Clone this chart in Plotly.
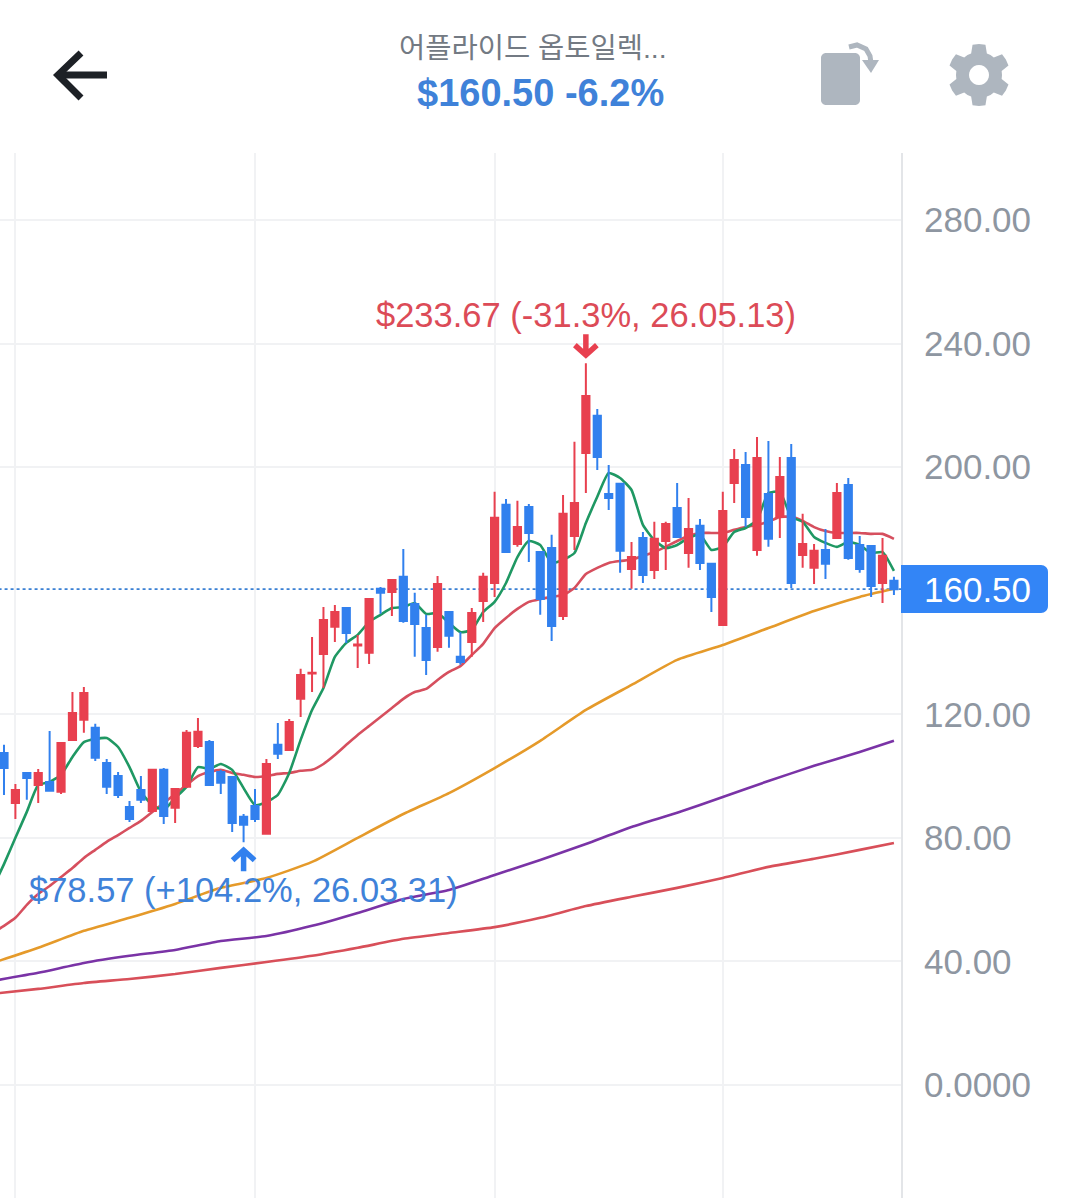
import math
import plotly.graph_objects as go

W, H = 1080, 1198

# Daily candles, oldest first
opens = [107.5,91.3,101.0,97.1,98.1,94.9,111.7,118.2,115.6,104.2,100.0,90.0,95.5,88.7,102.0,89.7,96.5,109.7,111.0,101.3,
         99.7,86.8,90.3,81.3,110.1,108.4,125.0,133.2,139.5,148.3,154.4,142.3,139.9,160.6,159.6,164.5,155.7,147.9,141.8,153.1,
         138.6,143.4,156.7,162.5,187.8,175.1,187.1,172.5,173.8,151.8,177.7,204.6,216.6,191.3,194.6,167.0,177.1,166.7,176.1,186.8,
         172.2,181.0,168.7,148.9,194.9,200.7,173.2,191.3,183.9,203.0,171.6,167.4,173.2,177.1,194.2,174.8,174.5,162.5,163.2]
closes = [102.6,95.5,99.4,101.0,95.2,110.7,120.4,126.9,105.9,96.5,93.9,86.1,92.3,102.0,87.1,95.8,114.0,114.3,97.1,97.8,
          84.8,84.2,86.1,103.9,107.2,117.5,132.7,133.4,150.5,153.1,146.3,142.6,157.3,159.3,163.5,150.2,149.2,137.6,162.2,145.4,
          136.9,152.8,164.5,183.6,172.5,180.6,178.7,157.3,148.6,184.9,188.4,223.0,203.3,190.0,172.9,170.9,165.1,176.8,181.6,177.4,
          180.0,169.0,158.0,185.8,202.3,183.9,203.0,176.8,196.8,162.5,175.1,172.9,168.7,191.6,170.6,167.0,161.5,171.3,160.5]
highs = [110.1,97.4,101.3,102.3,114.6,111.0,127.2,128.8,116.9,105.5,101.3,91.9,100.0,102.0,102.6,96.1,114.9,118.8,111.7,102.0,
         99.7,87.7,95.8,105.5,117.2,118.5,134.7,145.0,154.7,155.4,154.7,145.7,157.3,161.2,163.5,173.5,159.3,152.2,164.8,153.4,
         146.6,154.4,165.8,192.0,189.7,189.1,188.1,172.5,178.1,191.0,208.2,233.67,218.8,200.7,194.9,175.8,179.0,182.3,182.3,194.9,
         190.0,183.2,169.0,192.0,205.9,204.9,209.8,208.5,203.3,207.5,184.9,175.1,180.0,194.9,196.5,177.7,174.5,177.1,164.5]
lows = [93.9,86.1,92.3,91.3,95.2,94.2,111.7,114.0,104.9,94.2,92.9,85.1,91.3,88.4,84.5,84.8,96.1,109.1,96.8,94.2,
        81.9,78.57,85.1,81.3,105.5,108.4,119.1,127.2,128.5,143.4,143.1,135.0,136.3,152.5,151.8,149.6,138.6,132.7,140.2,141.5,
        136.0,138.6,149.9,158.0,172.5,174.2,169.3,152.2,143.7,150.5,173.2,191.6,199.1,186.1,165.8,160.6,162.5,163.8,166.7,177.1,
        167.4,166.7,153.1,148.9,188.4,180.6,171.3,174.2,177.1,160.9,167.4,162.2,163.8,176.8,170.0,165.8,158.0,156.0,158.6]
days = list(range(len(closes)))
assert len(opens) == len(closes) == len(highs) == len(lows) == 79

# Short moving averages, one value per day starting a day before the first candle
ma_days = list(range(-1, 79))
ma_short = [63.5,71.5,80.0,88.4,97.1,98.1,100.4,106.2,111.0,112.0,112.3,109.4,102.9,94.9,90.6,89.0,92.9,96.5,102.9,102.3,
            103.9,102.0,96.1,90.6,91.6,93.9,101.0,111.7,121.4,128.5,138.6,143.1,145.7,149.9,152.2,154.4,154.7,156.0,152.5,152.8,
            149.6,146.6,147.3,153.1,156.4,162.5,170.9,176.1,174.8,169.0,170.0,172.2,181.9,190.4,198.1,196.5,192.6,181.3,176.4,173.8,
            174.8,177.1,178.1,173.2,174.2,179.0,180.3,182.9,191.6,192.0,183.9,182.3,177.4,175.5,174.2,175.8,174.8,172.2,172.5,166.4]
ma_mid = [49.2,51.5,54.1,58.3,61.8,64.4,67.3,70.2,73.5,76.1,78.7,80.9,83.2,85.5,88.4,91.3,94.2,97.1,100.0,101.3,
          102.0,101.0,100.4,99.7,100.0,100.7,101.0,101.7,102.0,103.9,106.8,110.1,113.3,116.2,119.1,122.0,125.0,127.2,128.2,131.1,
          133.7,135.6,139.2,142.8,147.9,151.2,154.1,156.4,157.3,158.0,158.6,160.9,165.4,167.4,169.0,169.6,170.0,171.3,172.5,174.2,
          176.1,177.7,178.7,178.7,178.7,179.7,180.6,181.3,182.3,183.9,183.9,182.6,180.6,179.3,178.7,178.7,178.7,178.4,178.4,176.8]

# Long moving averages, read every fourth day
ma_long_days = [-1,3,7,11,15,19,23,27,31,35,39,43,47,51,55,59,63,67,71,75,78]
ma_60 = [39.5,44.4,49.9,54.1,58.6,63.8,67.0,72.2,80.0,87.7,94.5,102.6,111.4,121.4,129.5,137.6,142.4,147.9,153.4,158.0,160.6]
ma_120 = [33.7,36.3,39.5,41.8,43.7,46.6,48.2,51.5,55.7,60.2,63.1,68.0,72.8,78.0,83.5,88.1,93.2,98.4,103.3,107.8,111.4]
ma_240 = [29.5,31.1,33.0,34.3,35.9,37.9,39.8,41.8,44.4,47.3,49.2,51.1,54.1,57.9,60.9,63.8,67.0,70.6,73.2,76.1,78.3]

tick_values = [0, 40, 80, 120, 200, 240, 280]
tick_labels = ["0.0000", "40.00", "80.00", "120.00", "200.00", "240.00", "280.00"]
grid_days = [1, 22, 43, 63]

title_text = "어플라이드 옵토일렉..."
price_text = "$160.50"
change_text = "-6.2%"
high_text = "$233.67 (-31.3%, 26.05.13)"
low_text = "$78.57 (+104.2%, 26.03.31)"
last_text = "160.50"

RED = "#e8404f"
BLUE = "#3180ee"
LABEL_BLUE = "#3f82d9"
LABEL_RED = "#dc4b57"
GRID = "#f1f2f4"
TICK = "#8e96a1"
ICON = "#aeb6bf"
FONT = "Liberation Sans, Noto Sans CJK KR, sans-serif"

x_range = [-0.35, 78.62]
y_range = [-36.6, 301.7]
domain_x = [0, 901 / W]
domain_y = [0, (H - 153) / H]


def px(x, y):
    return x / W, 1 - y / H


def path(points, close=False):
    parts = []
    for i, (x, y) in enumerate(points):
        u, v = px(x, y)
        parts.append(("M" if i == 0 else "L") + f"{u:.5f},{v:.5f}")
    return " ".join(parts) + (" Z" if close else "")


def arc(cx, cy, r, a0, a1, n=8):
    return [(cx + r * math.cos(math.radians(a0 + (a1 - a0) * k / n)),
             cy + r * math.sin(math.radians(a0 + (a1 - a0) * k / n))) for k in range(n + 1)]


def filled(points, color):
    return dict(type="path", xref="paper", yref="paper", path=path(points, True),
                fillcolor=color, line=dict(width=0), layer="above")


def stroked(points, color, width):
    return dict(type="path", xref="paper", yref="paper", path=path(points),
                line=dict(color=color, width=width), layer="above")


def rounded(x0, y0, x1, y1, r):
    return (arc(x1 - r, y0 + r, r, -90, 0) + arc(x1 - r, y1 - r, r, 0, 90)
            + arc(x0 + r, y1 - r, r, 90, 180) + arc(x0 + r, y0 + r, r, 180, 270))


def gear(cx, cy, outer, inner, teeth=6):
    pts = []
    step = 360 / teeth
    for t in range(teeth):
        a = -90 + t * step
        pts += [(cx + outer * math.cos(math.radians(a + d)), cy + outer * math.sin(math.radians(a + d)))
                for d in (-12, 0, 12)]
        pts += [(cx + inner * math.cos(math.radians(a + d)), cy + inner * math.sin(math.radians(a + d)))
                for d in (step / 2 - 10, step / 2, step / 2 + 10)]
    return pts


def extreme_arrow(day, price, direction, color):
    # Shaft and chevron in pixels, anchored to the extreme price; direction +1 sits above it
    d = direction
    return dict(type="path", xref="x2", yref="y2", xsizemode="pixel", ysizemode="pixel",
                xanchor=day, yanchor=price,
                path=f"M0,{8 * d} L0,{29 * d} M-11,{18 * d} L0,{8 * d} L11,{18 * d}",
                line=dict(color=color, width=5.5), layer="above")


fig = go.Figure()

# Moving averages sit on the base axes so the candles overlay them
fig.add_trace(go.Scatter(x=[-1, 79], y=[closes[-1], closes[-1]], mode="lines",
                         line=dict(color="#3a80d4", width=1.6, dash="dot")))
for xs, ys, color, width in [
    (ma_long_days, ma_240, "#d84f59", 2.6),
    (ma_long_days, ma_120, "#7a33a6", 2.6),
    (ma_long_days, ma_60, "#e59a2a", 2.6),
    (ma_days, ma_mid, "#d64f5e", 2.6),
    (ma_days, ma_short, "#1f9863", 2.6),
]:
    fig.add_trace(go.Scatter(x=xs, y=ys, mode="lines",
                             line=dict(color=color, width=width, shape="spline", smoothing=0.5)))

fig.add_trace(go.Candlestick(
    x=days, open=opens, high=highs, low=lows, close=closes,
    increasing=dict(line=dict(color=RED, width=2), fillcolor=RED),
    decreasing=dict(line=dict(color=BLUE, width=2), fillcolor=BLUE),
    xaxis="x2", yaxis="y2",
))

peak = highs.index(max(highs))
trough = lows.index(min(lows))

annotations = [
    dict(xref="paper", yref="paper", x=532.5 / W, y=px(0, 48)[1], text=title_text, showarrow=False,
         font=dict(family=FONT, size=28.5, color="#737a83"), xanchor="center", yanchor="middle"),
    dict(xref="paper", yref="paper", x=540 / W, y=px(0, 93)[1],
         text=f"<b>{price_text}</b> <b>{change_text}</b>", showarrow=False,
         font=dict(family=FONT, size=38, color=LABEL_BLUE), xanchor="center", yanchor="middle"),
    dict(x=peak, y=highs[peak], xref="x2", yref="y2", text=high_text, showarrow=False,
         font=dict(family=FONT, size=34.5, color=LABEL_RED), xanchor="center", yanchor="middle", yshift=48),
    dict(x=trough, y=lows[trough], xref="x2", yref="y2", text=low_text, showarrow=False,
         font=dict(family=FONT, size=34.5, color=LABEL_BLUE), xanchor="center", yanchor="middle", yshift=-48),
    dict(xref="paper", yref="paper", x=922 / W, y=px(0, 589)[1], text=last_text, showarrow=False,
         font=dict(family=FONT, size=35, color="#ffffff"), xanchor="left", yanchor="middle"),
]

# Last-price tag squared off against the axis, then the header icons
tag_pts = [(901, 565)] + arc(1041, 572, 7, -90, 0) + arc(1041, 606, 7, 0, 90) + [(901, 613)]
shapes = [
    extreme_arrow(peak, highs[peak], 1, RED),
    extreme_arrow(trough, lows[trough], -1, BLUE),
    filled(tag_pts, "#3385f6"),
    stroked([(107, 75), (58, 75)], "#1d2126", 7),
    stroked([(81, 53), (58, 75), (81, 98)], "#1d2126", 7),
    filled(rounded(821, 53, 860, 105, 5), ICON),
    stroked([(849, 47), (857, 45), (866, 49), (870, 56), (871, 63)], ICON, 5),
    filled([(862, 60), (879, 60), (871, 73)], ICON),
    filled(gear(979, 75, 31, 23), ICON),
    filled(arc(979, 75, 10, 0, 360, 24), "#ffffff"),
]

fig.update_layout(
    width=W, height=H, margin=dict(l=0, r=0, t=0, b=0),
    paper_bgcolor="#ffffff", plot_bgcolor="#ffffff",
    showlegend=False, hovermode=False, boxgap=0.1,
    annotations=annotations, shapes=shapes,
    xaxis=dict(domain=domain_x, range=x_range, tickvals=grid_days, showticklabels=False,
               showgrid=True, gridcolor=GRID, gridwidth=2, zeroline=False, ticks="",
               rangeslider=dict(visible=False)),
    yaxis=dict(domain=domain_y, range=y_range, side="right", tickvals=tick_values, ticktext=tick_labels,
               tickfont=dict(family=FONT, size=35, color=TICK), ticks="", ticklabelstandoff=14,
               showgrid=True, gridcolor=GRID, gridwidth=2, zeroline=False,
               showline=True, linecolor="#e3e5e8", linewidth=2),
    xaxis2=dict(domain=domain_x, range=x_range, overlaying="x", anchor="y2", visible=False,
                rangeslider=dict(visible=False)),
    yaxis2=dict(domain=domain_y, range=y_range, overlaying="y", anchor="x2", visible=False),
)

fig.write_html("out.html", config=dict(displayModeBar=False))
